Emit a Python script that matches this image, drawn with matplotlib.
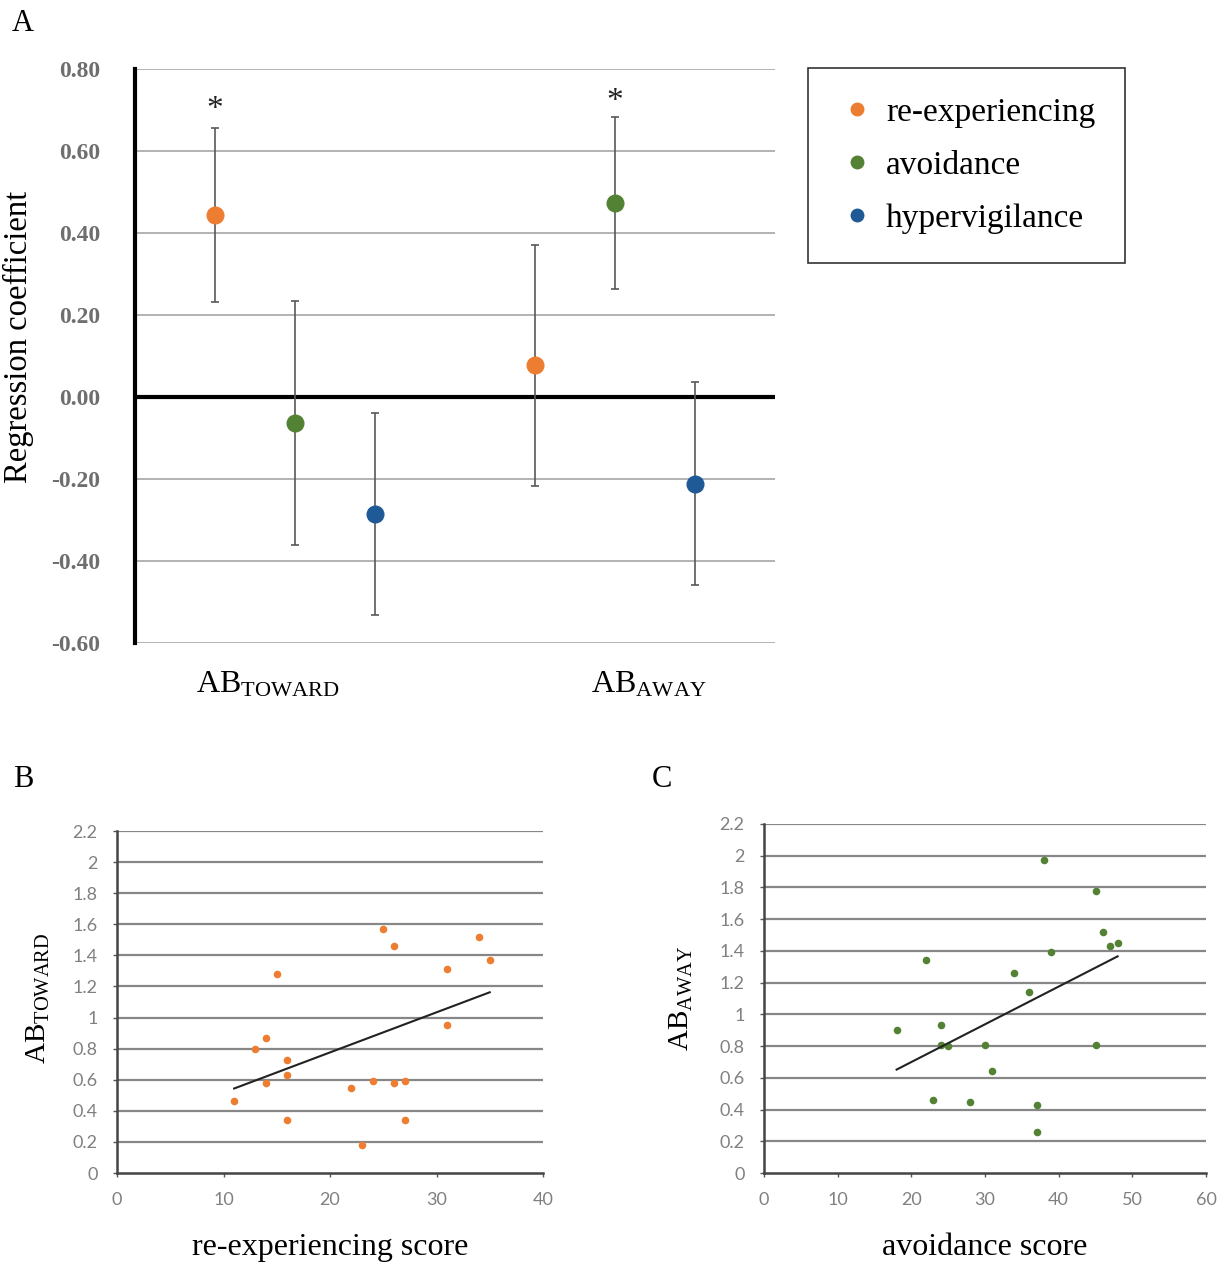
import numpy as np
import matplotlib
matplotlib.use('Agg')
import matplotlib.pyplot as plt
from matplotlib.lines import Line2D

plt.rcParams['font.family'] = ['Liberation Serif', 'DejaVu Serif']
plt.rcParams['mathtext.fontset'] = 'custom'
plt.rcParams['mathtext.rm'] = 'Liberation Serif'
plt.rcParams['mathtext.it'] = 'Liberation Serif:italic'

# ---- panel A data: regression coefficients with error bars
factors = ['re-experiencing', 'avoidance', 'hypervigilance']
colors = ['#ED7D31', '#548235', '#1F5A96']
positions_toward = [1, 2, 3]
positions_away = [5, 6, 7]
coef_toward = [0.444, -0.063, -0.285]
err_toward = [0.213, 0.298, 0.247]
coef_away = [0.077, 0.473, -0.211]
err_away = [0.294, 0.209, 0.247]
star_x = [1, 6]
star_y = [0.70, 0.72]

# ---- panel B data: AB toward vs re-experiencing score
reexp_score = [11, 13, 14, 14, 15, 16, 16, 16, 22, 23, 24, 25, 26, 26, 27, 27, 31, 31, 34, 35]
ab_toward = [0.46, 0.80, 0.87, 0.58, 1.28, 0.73, 0.63, 0.34, 0.55, 0.18, 0.59, 1.57,
             1.46, 0.58, 0.59, 0.34, 1.31, 0.95, 1.52, 1.37]

# ---- panel C data: AB away vs avoidance score
avoid_score = [18, 22, 23, 24, 24, 25, 28, 30, 31, 34, 36, 37, 37, 38, 39, 45, 45, 46, 47, 48]
ab_away = [0.90, 1.34, 0.46, 0.93, 0.81, 0.80, 0.45, 0.81, 0.64, 1.26, 1.14, 0.43,
           0.26, 1.97, 1.39, 1.78, 0.81, 1.52, 1.43, 1.45]

W, H = 1225, 1266
fig = plt.figure(figsize=(W / 100, H / 100), dpi=100)


def box(l, r, t, b):
    return [l / W, 1 - b / H, (r - l) / W, (b - t) / H]


# ================= panel A
ax = fig.add_axes(box(135, 775, 69, 643))
ax.set_xlim(0, 8)
ax.set_ylim(-0.6, 0.8)
yt = np.arange(-0.6, 0.81, 0.2)
ax.set_yticks(yt)
ax.set_yticklabels(['%.2f' % v for v in yt], fontweight='bold', color='#6E6E6E', fontsize=17)
ax.set_xticks([])
ax.tick_params(axis='y', length=0, pad=25)
for v in yt:
    ax.axhline(v, color='#A6A6A6', lw=1.2, zorder=0)
ax.axhline(0, color='black', lw=3, zorder=1)
for s in ['top', 'right', 'bottom']:
    ax.spines[s].set_visible(False)
ax.spines['left'].set_linewidth(3)
ax.spines['left'].set_color('black')

for i in range(3):
    ax.errorbar(positions_toward[i], coef_toward[i], yerr=err_toward[i], fmt='o', color=colors[i],
                ecolor='#595959', elinewidth=1.2, capsize=3, capthick=1.2, markersize=12, zorder=3)
    ax.errorbar(positions_away[i], coef_away[i], yerr=err_away[i], fmt='o', color=colors[i],
                ecolor='#595959', elinewidth=1.2, capsize=3, capthick=1.2, markersize=12, zorder=3)
for x, y in zip(star_x, star_y):
    ax.text(x, y, '*', ha='center', va='center', fontsize=24, color='#222222')

ax.set_ylabel('Regression coefficient', fontsize=23.5)
ax.yaxis.set_label_coords(-0.158, 0.533)
ax.text(1.66, -0.087, r'$\mathrm{AB}_{\mathrm{TOWARD}}$', transform=ax.get_xaxis_transform(),
        ha='center', va='baseline', fontsize=23)
ax.text(6.42, -0.087, r'$\mathrm{AB}_{\mathrm{AWAY}}$', transform=ax.get_xaxis_transform(),
        ha='center', va='baseline', fontsize=23)

handles = [Line2D([0], [0], marker='o', ls='none', color=c, markersize=9) for c in colors]
leg = fig.legend(handles, factors, loc='upper left', bbox_to_anchor=(808 / W, 1 - 68 / H),
                 borderaxespad=0, fontsize=24, frameon=True, fancybox=False, edgecolor='black',
                 borderpad=0.88, handlelength=1.2, handletextpad=0.26, labelspacing=0.67)
leg.get_frame().set_linewidth(1.2)

fig.text(12 / W, 1 - 31 / H, 'A', fontsize=22, ha='left', va='baseline')
fig.text(13 / W, 1 - 787 / H, 'B', fontsize=22, ha='left', va='baseline')
fig.text(652 / W, 1 - 787 / H, 'C', fontsize=22, ha='left', va='baseline')


# ================= panels B and C
def scatter_panel(rect, xs, ys, color, xmax, xlabel, ylabel, ylab_x):
    a = fig.add_axes(rect)
    a.set_xlim(0, xmax)
    a.set_ylim(0, 2.2)
    ticks = np.arange(0, 2.21, 0.2)
    a.set_yticks(ticks)
    a.set_yticklabels(['%g' % round(v, 1) for v in ticks])
    a.set_xticks(np.arange(0, xmax + 1, 10))
    for lab in a.get_xticklabels() + a.get_yticklabels():
        lab.set_family(['Lato', 'DejaVu Sans'])
        lab.set_fontsize(13)
        lab.set_color('#808080')
    a.tick_params(axis='both', length=3, width=1, color='#555555', direction='out', pad=11)
    for v in ticks[1:]:
        a.axhline(v, color='#878787', lw=1.6, zorder=0)
    for s in ['top', 'right']:
        a.spines[s].set_visible(False)
    for s in ['left', 'bottom']:
        a.spines[s].set_color('#444444')
        a.spines[s].set_linewidth(1.8)
    a.scatter(xs, ys, s=30, color=color, zorder=3, linewidths=0)
    k, b0 = np.polyfit(xs, ys, 1)
    xx = np.array([min(xs), max(xs)])
    a.plot(xx, k * xx + b0, color='#222222', lw=1.5, zorder=4)
    a.set_xlabel(xlabel, fontsize=23, labelpad=18)
    fig.text(ylab_x / W, 1 - 998 / H, ylabel, rotation=90, ha='center', va='center', fontsize=21)
    return a


scatter_panel(box(117, 543, 831, 1173), reexp_score, ab_toward, '#ED7D31', 40,
              're-experiencing score', r'$\mathrm{AB}_{\mathrm{TOWARD}}$', 38)
scatter_panel(box(764, 1206, 824, 1173), avoid_score, ab_away, '#548235', 60,
              'avoidance score', r'$\mathrm{AB}_{\mathrm{AWAY}}$', 681)

fig.savefig('out.png', dpi=100)
